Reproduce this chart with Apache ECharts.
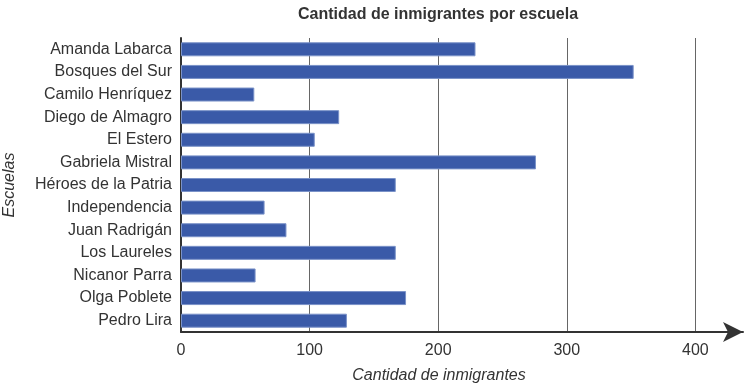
<!DOCTYPE html>
<html><head><meta charset="utf-8">
<script src="https://cdn.jsdelivr.net/npm/echarts@6/dist/echarts.min.js"></script>
<style>html,body{margin:0;padding:0;background:#fff}#c{width:754px;height:387px}</style>
</head><body><div id="c"></div>
<script>
const schools = ["Amanda Labarca","Bosques del Sur","Camilo Henríquez","Diego de Almagro","El Estero","Gabriela Mistral","Héroes de la Patria","Independencia","Juan Radrigán","Los Laureles","Nicanor Parra","Olga Poblete","Pedro Lira"];
const immigrants = [229,352,57,123,104,276,167,65,82,167,58,175,129];
const xTicks = [0,100,200,300,400];
const titleText = "Cantidad de inmigrantes por escuela";
const xName = "Cantidad de inmigrantes";
const yName = "Escuelas";

const FF = 'Liberation Sans, Arial, sans-serif';
const chart = echarts.init(document.getElementById('c'), null, {renderer:'canvas'});
chart.setOption({
  animation:false,
  textStyle:{fontFamily:FF},
  title:{text:titleText,left:293,top:2,
    textStyle:{fontSize:16,fontWeight:'bold',color:'#333',fontFamily:FF}},
  grid:{left:181,right:11,top:38,bottom:55,containLabel:false,outerBoundsMode:'none'},
  xAxis:{type:'value',min:0,max:437,interval:100,
    name:xName,nameLocation:'middle',nameGap:36,
    nameTextStyle:{fontStyle:'italic',fontSize:16,color:'#333',padding:[0,46,0,0]},
    axisLine:{show:true,lineStyle:{color:'#333',width:2},symbol:['none','arrow'],symbolSize:[15,20]},
    axisTick:{show:false},
    axisLabel:{fontSize:16,color:'#333',margin:11,
      formatter:v=>xTicks.includes(v)?String(v):''},
    splitLine:{show:true,showMinLine:false,showMaxLine:false,lineStyle:{color:'#666',width:1}}
  },
  yAxis:{type:'category',data:schools,inverse:true,
    name:yName,nameLocation:'middle',nameGap:163,nameRotate:90,
    nameTextStyle:{fontStyle:'italic',fontSize:16,color:'#333'},
    axisLine:{show:true,lineStyle:{color:'#333',width:2}},
    axisTick:{show:false},
    axisLabel:{fontSize:16,color:'#333',margin:9},
    splitLine:{show:false}
  },
  series:[{type:'bar',data:immigrants,barWidth:14,
    itemStyle:{color:'#3a5aa8',borderColor:'#7a92c8',borderWidth:1}}]
});
</script></body></html>
